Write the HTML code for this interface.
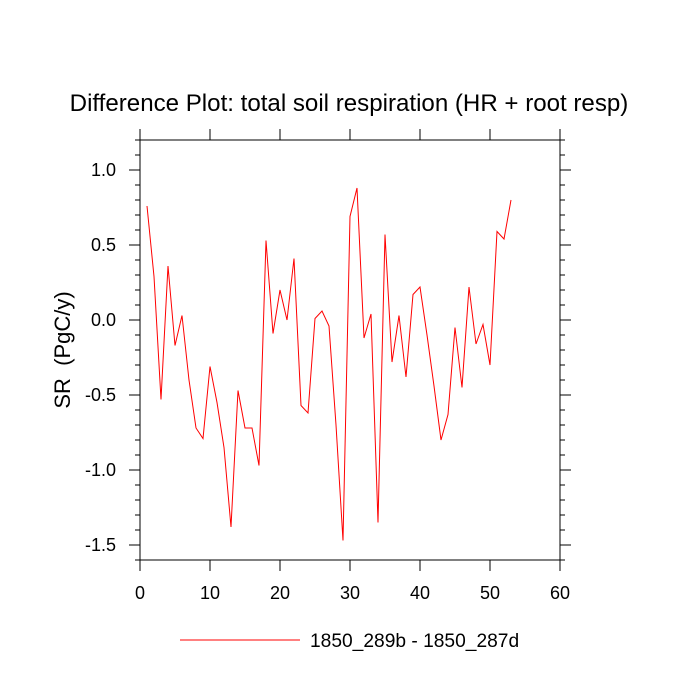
<!DOCTYPE html>
<html><head><meta charset="utf-8"><style>
body{margin:0;background:#fff;}
svg{display:block;font-family:"Liberation Sans",sans-serif;}
</style></head><body>
<svg id="chart" width="700" height="700">
<text x="349" y="111" font-size="24.1" text-anchor="middle">Difference Plot: total soil respiration (HR + root resp)</text>
<text transform="translate(70,350) rotate(-90)" font-size="22" text-anchor="middle" style="white-space:pre">SR  (PgC/y)</text>
<g id="axes"></g>
<rect x="140" y="140" width="420" height="420" fill="none" stroke="#000" stroke-width="1"/>
<line x1="180" y1="640" x2="300" y2="640" stroke="red" stroke-width="1"/>
<text x="310" y="647" font-size="19.2">1850_289b - 1850_287d</text>
</svg>
<script>
const years=[];for(let i=1;i<=53;i++)years.push(i);
const values=[0.76,0.29,-0.53,0.36,-0.17,0.03,-0.40,-0.72,-0.79,-0.31,-0.55,-0.85,-1.38,-0.47,-0.72,-0.72,-0.97,0.53,-0.09,0.20,0.0,0.41,-0.57,-0.62,0.01,0.06,-0.04,-0.70,-1.47,0.69,0.88,-0.12,0.04,-1.35,0.57,-0.28,0.03,-0.38,0.17,0.22,-0.10,-0.44,-0.80,-0.63,-0.05,-0.45,0.22,-0.16,-0.03,-0.30,0.59,0.54,0.80];
const xTicks=[0,10,20,30,40,50,60];
const yTicks=[-1.5,-1.0,-0.5,0.0,0.5,1.0];
const yLabels=["-1.5","-1.0","-0.5","0.0","0.5","1.0"];
const NS="http://www.w3.org/2000/svg";
const sx=v=>140+v*7, sy=v=>320-v*150;
const svg=document.getElementById('chart'), g=document.getElementById('axes');
function ln(x1,y1,x2,y2,name){const l=document.createElementNS(NS,'line');l.setAttribute('x1',x1);l.setAttribute('y1',y1);l.setAttribute('x2',x2);l.setAttribute('y2',y2);l.setAttribute('stroke','#000');l.setAttribute('stroke-width','1');


g.appendChild(l);}
function tx(x,y,s,anchor,name){const t=document.createElementNS(NS,'text');t.setAttribute('x',x);t.setAttribute('y',y);t.setAttribute('font-size','18');t.setAttribute('text-anchor',anchor);t.textContent=s;


g.appendChild(t);}
xTicks.forEach(v=>{const x=sx(v);ln(x,560,x,571,'x-tick');ln(x,140,x,129,'x-tick-top');tx(x,599,String(v),'middle','x-tick-label');});
for(let k=-16;k<=12;k++){const v=k/10,y=sy(v);const major=(k%5===0);const L=major?11:5;ln(140,y,140-L,y,'y-tick');ln(560,y,560+L,y,'y-tick-right');}
yTicks.forEach((v,i)=>tx(116,sy(v)+6,yLabels[i],'end','y-tick-label'));
const p=document.createElementNS(NS,'polyline');
p.setAttribute('points',years.map((y,i)=>sx(y)+','+sy(values[i])).join(' '));
p.setAttribute('fill','none');p.setAttribute('stroke','red');p.setAttribute('stroke-width','1');


svg.appendChild(p);
</script>
</body></html>
